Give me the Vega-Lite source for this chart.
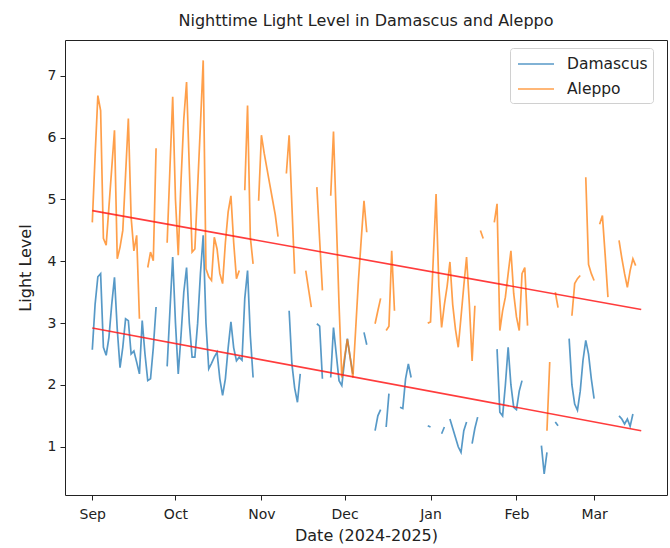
{
  "$schema": "https://vega.github.io/schema/vega-lite/v6.json",
  "width": 602,
  "height": 455,
  "autosize": {"type": "none"},
  "padding": {"left": 65, "top": 40, "right": 3, "bottom": 53},
  "background": "white",
  "title": {"text": "Nighttime Light Level in Damascus and Aleppo", "font": "DejaVu Sans", "fontSize": 16, "fontWeight": "normal", "color": "#222", "offset": 11},
  "config": {
    "view": {"stroke": "#222", "strokeWidth": 1},
    "axis": {"labelFont": "DejaVu Sans", "titleFont": "DejaVu Sans", "labelColor": "#222", "titleColor": "#222", "tickColor": "#222", "domain": false, "grid": false, "titleFontWeight": "normal", "labelFontSize": 14, "titleFontSize": 16, "tickSize": 5}
  },
  "encoding": {
    "x": {
      "field": "date", "type": "temporal",
      "scale": {"type": "utc", "domain": [{"year": 2024, "month": 8, "date": 22, "hours": 3, "minutes": 36, "utc": true}, {"year": 2025, "month": 3, "date": 27, "hours": 7, "minutes": 12, "utc": true}]},
      "axis": {"title": "Date (2024-2025)", "format": "%b", "labelPadding": 7, "titlePadding": 6,
        "values": [{"year": 2024, "month": 9, "date": 1, "utc": true}, {"year": 2024, "month": 10, "date": 1, "utc": true}, {"year": 2024, "month": 11, "date": 1, "utc": true}, {"year": 2024, "month": 12, "date": 1, "utc": true}, {"year": 2025, "month": 1, "date": 1, "utc": true}, {"year": 2025, "month": 2, "date": 1, "utc": true}, {"year": 2025, "month": 3, "date": 1, "utc": true}]}
    },
    "y": {
      "field": "level", "type": "quantitative",
      "scale": {"domain": [0.22, 7.58], "nice": false, "zero": false},
      "axis": {"title": "Light Level", "values": [1, 2, 3, 4, 5, 6, 7], "labelPadding": 4, "titlePadding": 14}
    }
  },
  "layer": [
    {
      "data": {"values": [
        {"date": "2024-09-01", "Damascus": 2.57, "Aleppo": 4.63},
        {"date": "2024-09-02", "Damascus": 3.3, "Aleppo": 5.7},
        {"date": "2024-09-03", "Damascus": 3.75, "Aleppo": 6.68},
        {"date": "2024-09-04", "Damascus": 3.8, "Aleppo": 6.44},
        {"date": "2024-09-05", "Damascus": 2.61, "Aleppo": 4.37},
        {"date": "2024-09-06", "Damascus": 2.48, "Aleppo": 4.26},
        {"date": "2024-09-07", "Damascus": 2.77, "Aleppo": 4.88},
        {"date": "2024-09-08", "Damascus": 3.3, "Aleppo": 5.5},
        {"date": "2024-09-09", "Damascus": 3.74, "Aleppo": 6.12},
        {"date": "2024-09-10", "Damascus": 2.9, "Aleppo": 4.04},
        {"date": "2024-09-11", "Damascus": 2.28, "Aleppo": 4.23},
        {"date": "2024-09-12", "Damascus": 2.61, "Aleppo": 4.5},
        {"date": "2024-09-13", "Damascus": 3.07, "Aleppo": 5.4},
        {"date": "2024-09-14", "Damascus": 3.04, "Aleppo": 6.31},
        {"date": "2024-09-15", "Damascus": 2.5, "Aleppo": 4.71},
        {"date": "2024-09-16", "Damascus": 2.55, "Aleppo": 4.17},
        {"date": "2024-09-17", "Damascus": 2.37, "Aleppo": 4.42},
        {"date": "2024-09-18", "Damascus": 2.18, "Aleppo": 3.07},
        {"date": "2024-09-19", "Damascus": 3.04, "Aleppo": null},
        {"date": "2024-09-20", "Damascus": 2.5, "Aleppo": null},
        {"date": "2024-09-21", "Damascus": 2.07, "Aleppo": 3.9},
        {"date": "2024-09-22", "Damascus": 2.1, "Aleppo": 4.15},
        {"date": "2024-09-23", "Damascus": 2.6, "Aleppo": 4.01},
        {"date": "2024-09-24", "Damascus": 3.26, "Aleppo": 5.83},
        {"date": "2024-09-25", "Damascus": null, "Aleppo": null},
        {"date": "2024-09-28", "Damascus": 2.3, "Aleppo": 4.3},
        {"date": "2024-09-29", "Damascus": 3.2, "Aleppo": 5.5},
        {"date": "2024-09-30", "Damascus": 4.07, "Aleppo": 6.66},
        {"date": "2024-10-01", "Damascus": 3.0, "Aleppo": 5.0},
        {"date": "2024-10-02", "Damascus": 2.18, "Aleppo": 4.1},
        {"date": "2024-10-03", "Damascus": 2.8, "Aleppo": 5.3},
        {"date": "2024-10-04", "Damascus": 3.5, "Aleppo": 6.3},
        {"date": "2024-10-05", "Damascus": 3.9, "Aleppo": 6.9},
        {"date": "2024-10-06", "Damascus": 3.0, "Aleppo": 5.5},
        {"date": "2024-10-07", "Damascus": 2.45, "Aleppo": 4.15},
        {"date": "2024-10-08", "Damascus": 2.45, "Aleppo": 4.2},
        {"date": "2024-10-09", "Damascus": 3.0, "Aleppo": 5.2},
        {"date": "2024-10-10", "Damascus": 3.8, "Aleppo": 6.2},
        {"date": "2024-10-11", "Damascus": 4.42, "Aleppo": 7.25},
        {"date": "2024-10-12", "Damascus": 3.0, "Aleppo": 3.88},
        {"date": "2024-10-13", "Damascus": 2.26, "Aleppo": 3.75},
        {"date": "2024-10-14", "Damascus": 2.35, "Aleppo": 3.69},
        {"date": "2024-10-15", "Damascus": 2.45, "Aleppo": 4.39},
        {"date": "2024-10-16", "Damascus": 2.53, "Aleppo": 4.2},
        {"date": "2024-10-17", "Damascus": 2.1, "Aleppo": 3.8},
        {"date": "2024-10-18", "Damascus": 1.83, "Aleppo": 3.64},
        {"date": "2024-10-19", "Damascus": 2.1, "Aleppo": 4.3},
        {"date": "2024-10-20", "Damascus": 2.6, "Aleppo": 4.8},
        {"date": "2024-10-21", "Damascus": 3.02, "Aleppo": 5.06},
        {"date": "2024-10-22", "Damascus": 2.6, "Aleppo": 4.3},
        {"date": "2024-10-23", "Damascus": 2.39, "Aleppo": 3.72},
        {"date": "2024-10-24", "Damascus": 2.45, "Aleppo": 3.85},
        {"date": "2024-10-25", "Damascus": 2.4, "Aleppo": null},
        {"date": "2024-10-26", "Damascus": 3.4, "Aleppo": 5.15},
        {"date": "2024-10-27", "Damascus": 3.85, "Aleppo": 6.52},
        {"date": "2024-10-28", "Damascus": 2.8, "Aleppo": 4.39},
        {"date": "2024-10-29", "Damascus": 2.12, "Aleppo": 3.96},
        {"date": "2024-10-30", "Damascus": null, "Aleppo": null},
        {"date": "2024-10-31", "Damascus": null, "Aleppo": 4.98},
        {"date": "2024-11-01", "Damascus": null, "Aleppo": 6.04},
        {"date": "2024-11-02", "Damascus": null, "Aleppo": 5.75},
        {"date": "2024-11-03", "Damascus": null, "Aleppo": 5.5},
        {"date": "2024-11-04", "Damascus": null, "Aleppo": 5.25},
        {"date": "2024-11-05", "Damascus": null, "Aleppo": 5.0},
        {"date": "2024-11-06", "Damascus": null, "Aleppo": 4.75},
        {"date": "2024-11-07", "Damascus": null, "Aleppo": 4.4},
        {"date": "2024-11-08", "Damascus": null, "Aleppo": null},
        {"date": "2024-11-10", "Damascus": null, "Aleppo": 5.42},
        {"date": "2024-11-11", "Damascus": 3.2, "Aleppo": 6.04},
        {"date": "2024-11-12", "Damascus": 2.34, "Aleppo": 4.9},
        {"date": "2024-11-13", "Damascus": 1.95, "Aleppo": 3.8},
        {"date": "2024-11-14", "Damascus": 1.72, "Aleppo": null},
        {"date": "2024-11-15", "Damascus": 2.18, "Aleppo": null},
        {"date": "2024-11-16", "Damascus": null, "Aleppo": null},
        {"date": "2024-11-17", "Damascus": null, "Aleppo": 3.85},
        {"date": "2024-11-18", "Damascus": null, "Aleppo": 3.55},
        {"date": "2024-11-19", "Damascus": null, "Aleppo": 3.26},
        {"date": "2024-11-20", "Damascus": null, "Aleppo": null},
        {"date": "2024-11-21", "Damascus": 2.99, "Aleppo": 5.2},
        {"date": "2024-11-22", "Damascus": 2.95, "Aleppo": 4.35},
        {"date": "2024-11-23", "Damascus": 2.1, "Aleppo": 3.53},
        {"date": "2024-11-24", "Damascus": null, "Aleppo": null},
        {"date": "2024-11-26", "Damascus": 2.12, "Aleppo": 5.06},
        {"date": "2024-11-27", "Damascus": 2.93, "Aleppo": 6.1},
        {"date": "2024-11-28", "Damascus": 2.5, "Aleppo": 4.7},
        {"date": "2024-11-29", "Damascus": 2.07, "Aleppo": 3.3},
        {"date": "2024-11-30", "Damascus": 1.99, "Aleppo": 2.12},
        {"date": "2024-12-01", "Damascus": 2.4, "Aleppo": 2.45},
        {"date": "2024-12-02", "Damascus": 2.75, "Aleppo": 2.74},
        {"date": "2024-12-03", "Damascus": 2.45, "Aleppo": 2.45},
        {"date": "2024-12-04", "Damascus": 2.18, "Aleppo": 2.12},
        {"date": "2024-12-05", "Damascus": null, "Aleppo": 2.9},
        {"date": "2024-12-06", "Damascus": null, "Aleppo": 3.69},
        {"date": "2024-12-07", "Damascus": null, "Aleppo": 4.35},
        {"date": "2024-12-08", "Damascus": 2.85, "Aleppo": 4.98},
        {"date": "2024-12-09", "Damascus": 2.65, "Aleppo": 4.47},
        {"date": "2024-12-10", "Damascus": null, "Aleppo": null},
        {"date": "2024-12-12", "Damascus": 1.26, "Aleppo": 2.99},
        {"date": "2024-12-13", "Damascus": 1.5, "Aleppo": 3.2},
        {"date": "2024-12-14", "Damascus": 1.6, "Aleppo": 3.4},
        {"date": "2024-12-15", "Damascus": null, "Aleppo": null},
        {"date": "2024-12-16", "Damascus": 1.32, "Aleppo": 2.88},
        {"date": "2024-12-17", "Damascus": 1.86, "Aleppo": 2.95},
        {"date": "2024-12-18", "Damascus": null, "Aleppo": 4.17},
        {"date": "2024-12-19", "Damascus": null, "Aleppo": 3.2},
        {"date": "2024-12-20", "Damascus": null, "Aleppo": null},
        {"date": "2024-12-21", "Damascus": 1.64, "Aleppo": null},
        {"date": "2024-12-22", "Damascus": 1.62, "Aleppo": null},
        {"date": "2024-12-23", "Damascus": 2.1, "Aleppo": null},
        {"date": "2024-12-24", "Damascus": 2.34, "Aleppo": null},
        {"date": "2024-12-25", "Damascus": 2.12, "Aleppo": null},
        {"date": "2024-12-26", "Damascus": null, "Aleppo": null},
        {"date": "2024-12-31", "Damascus": 1.34, "Aleppo": 3.0},
        {"date": "2025-01-01", "Damascus": 1.32, "Aleppo": 3.02},
        {"date": "2025-01-02", "Damascus": null, "Aleppo": 4.05},
        {"date": "2025-01-03", "Damascus": null, "Aleppo": 5.09},
        {"date": "2025-01-04", "Damascus": null, "Aleppo": 3.6},
        {"date": "2025-01-05", "Damascus": 1.21, "Aleppo": 2.93},
        {"date": "2025-01-06", "Damascus": 1.32, "Aleppo": 3.3},
        {"date": "2025-01-07", "Damascus": null, "Aleppo": 3.6},
        {"date": "2025-01-08", "Damascus": 1.45, "Aleppo": 3.99},
        {"date": "2025-01-09", "Damascus": 1.3, "Aleppo": 3.3},
        {"date": "2025-01-10", "Damascus": 1.15, "Aleppo": 2.9},
        {"date": "2025-01-11", "Damascus": 1.0, "Aleppo": 2.61},
        {"date": "2025-01-12", "Damascus": 0.91, "Aleppo": 3.1},
        {"date": "2025-01-13", "Damascus": 1.26, "Aleppo": 3.6},
        {"date": "2025-01-14", "Damascus": 1.4, "Aleppo": 4.07},
        {"date": "2025-01-15", "Damascus": null, "Aleppo": 3.31},
        {"date": "2025-01-16", "Damascus": 1.05, "Aleppo": 2.39},
        {"date": "2025-01-17", "Damascus": 1.3, "Aleppo": 3.28},
        {"date": "2025-01-18", "Damascus": 1.48, "Aleppo": null},
        {"date": "2025-01-19", "Damascus": null, "Aleppo": 4.5},
        {"date": "2025-01-20", "Damascus": null, "Aleppo": 4.37},
        {"date": "2025-01-21", "Damascus": null, "Aleppo": null},
        {"date": "2025-01-24", "Damascus": null, "Aleppo": 4.63},
        {"date": "2025-01-25", "Damascus": 2.58, "Aleppo": 4.93},
        {"date": "2025-01-26", "Damascus": 1.56, "Aleppo": 2.88},
        {"date": "2025-01-27", "Damascus": 1.5, "Aleppo": 3.2},
        {"date": "2025-01-28", "Damascus": 2.0, "Aleppo": 3.42},
        {"date": "2025-01-29", "Damascus": 2.61, "Aleppo": 3.8},
        {"date": "2025-01-30", "Damascus": 2.0, "Aleppo": 4.17},
        {"date": "2025-01-31", "Damascus": 1.64, "Aleppo": 3.48},
        {"date": "2025-02-01", "Damascus": 1.6, "Aleppo": 3.1},
        {"date": "2025-02-02", "Damascus": 1.9, "Aleppo": 2.88},
        {"date": "2025-02-03", "Damascus": 2.07, "Aleppo": 3.8},
        {"date": "2025-02-04", "Damascus": null, "Aleppo": 3.9},
        {"date": "2025-02-05", "Damascus": null, "Aleppo": 2.96},
        {"date": "2025-02-06", "Damascus": null, "Aleppo": null},
        {"date": "2025-02-10", "Damascus": 1.02, "Aleppo": null},
        {"date": "2025-02-11", "Damascus": 0.56, "Aleppo": null},
        {"date": "2025-02-12", "Damascus": 0.91, "Aleppo": 1.26},
        {"date": "2025-02-13", "Damascus": null, "Aleppo": 2.37},
        {"date": "2025-02-14", "Damascus": null, "Aleppo": null},
        {"date": "2025-02-15", "Damascus": 1.4, "Aleppo": 3.5},
        {"date": "2025-02-16", "Damascus": 1.34, "Aleppo": 3.25},
        {"date": "2025-02-17", "Damascus": null, "Aleppo": null},
        {"date": "2025-02-20", "Damascus": 2.75, "Aleppo": null},
        {"date": "2025-02-21", "Damascus": 2.0, "Aleppo": 3.12},
        {"date": "2025-02-22", "Damascus": 1.69, "Aleppo": 3.64},
        {"date": "2025-02-23", "Damascus": 1.59, "Aleppo": 3.72},
        {"date": "2025-02-24", "Damascus": 1.9, "Aleppo": 3.77},
        {"date": "2025-02-25", "Damascus": 2.4, "Aleppo": null},
        {"date": "2025-02-26", "Damascus": 2.72, "Aleppo": 5.36},
        {"date": "2025-02-27", "Damascus": 2.5, "Aleppo": 3.95},
        {"date": "2025-02-28", "Damascus": 2.1, "Aleppo": 3.8},
        {"date": "2025-03-01", "Damascus": 1.78, "Aleppo": 3.69},
        {"date": "2025-03-02", "Damascus": null, "Aleppo": null},
        {"date": "2025-03-03", "Damascus": null, "Aleppo": 4.6},
        {"date": "2025-03-04", "Damascus": null, "Aleppo": 4.74},
        {"date": "2025-03-05", "Damascus": null, "Aleppo": 4.1},
        {"date": "2025-03-06", "Damascus": null, "Aleppo": 3.42},
        {"date": "2025-03-07", "Damascus": null, "Aleppo": null},
        {"date": "2025-03-10", "Damascus": 1.5, "Aleppo": 4.34},
        {"date": "2025-03-11", "Damascus": 1.45, "Aleppo": 4.05},
        {"date": "2025-03-12", "Damascus": 1.37, "Aleppo": 3.8},
        {"date": "2025-03-13", "Damascus": 1.45, "Aleppo": 3.58},
        {"date": "2025-03-14", "Damascus": 1.33, "Aleppo": 3.85},
        {"date": "2025-03-15", "Damascus": 1.53, "Aleppo": 4.04},
        {"date": "2025-03-16", "Damascus": null, "Aleppo": 3.93}
      ]},
      "transform": [{"fold": ["Damascus", "Aleppo"], "as": ["city", "level"]}],
      "mark": {"type": "line", "strokeWidth": 1.7, "opacity": 0.75, "invalid": "break-paths-show-domains"},
      "encoding": {
        "color": {
          "field": "city", "type": "nominal",
          "scale": {"domain": ["Damascus", "Aleppo"], "range": ["#1f77b4", "#ff7f0e"]},
          "legend": {"title": null, "orient": "none", "legendX": 445, "legendY": 8, "direction": "vertical", "fillColor": "white", "strokeColor": "#d0d0d0", "cornerRadius": 3, "padding": 5, "symbolType": "M-0.8,0H2.8", "symbolSize": 400, "symbolStrokeWidth": 1.7, "symbolOpacity": 0.75, "labelFont": "DejaVu Sans", "labelFontSize": 15.5, "labelColor": "#222", "labelOffset": 30, "rowPadding": 5}
        }
      }
    },
    {
      "data": {"values": [
        {"date": "2024-09-01", "city": "Damascus", "level": 2.92},
        {"date": "2025-03-18", "city": "Damascus", "level": 1.26},
        {"date": "2024-09-01", "city": "Aleppo", "level": 4.82},
        {"date": "2025-03-18", "city": "Aleppo", "level": 3.22}
      ]},
      "mark": {"type": "line", "color": "#ff1a1a", "strokeWidth": 1.6, "opacity": 0.85},
      "encoding": {"detail": {"field": "city", "type": "nominal"}}
    }
  ]
}
